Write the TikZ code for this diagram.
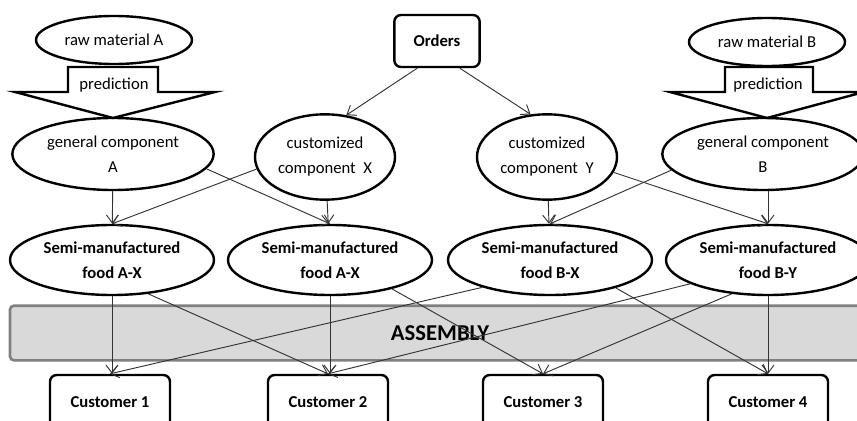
\documentclass[tikz,border=0pt]{standalone}
\usepackage{fontspec}
\setmainfont{Carlito}
\usetikzlibrary{shapes.geometric,arrows.meta}

\tikzstyle{oval} = [ellipse,draw,line width=1.8pt,inner sep=0pt,align=center,font=\fontsize{12.5}{18.75}\selectfont]
\tikzstyle{raw} = [oval,minimum width=117pt,minimum height=36pt]
\tikzstyle{general} = [oval,minimum width=151pt,minimum height=54pt]
\tikzstyle{custom} = [oval,minimum width=105pt,minimum height=64pt]
\tikzstyle{semi} = [oval,minimum width=153pt,minimum height=52.5pt,font=\fontsize{12.5}{18.75}\selectfont\bfseries]
\tikzstyle{box} = [rectangle,draw,rounded corners=5pt,line width=1.8pt,font=\fontsize{12.5}{15}\selectfont\bfseries]
\tikzstyle{customer} = [box,minimum width=90pt,minimum height=40.5pt]
\tikzstyle{band} = [rectangle,draw=black!50,fill=black!15,line width=2pt,rounded corners=3pt,minimum width=645pt,minimum height=41pt,font=\fontsize{17}{20}\selectfont\bfseries]
\tikzstyle{predict} = [draw,line width=1.8pt,fill=white,line join=miter]
\tikzstyle{link} = [draw=black!80,line width=0.7pt,-{Straight Barb[length=6pt,width=9pt]}]

\begin{document}
\begin{tikzpicture}[x=0.75pt,y=-0.75pt]
	\useasboundingbox (0,0) rectangle (857,421);

	\node[band] (asm) at (440,333) {ASSEMBLY};

	\node[raw] (rawA) at (114,40) {raw material A};
	\node[raw] (rawB) at (767,42) {raw material B};
	\node[box,minimum width=64pt,minimum height=39pt] (ord) at (437,41) {Orders};

	\draw[predict] (68,67) -- (158,67) -- (158,92) -- (215,92) -- (113,118) -- (15,92) -- (68,92) -- cycle;
	\draw[predict] (725,67) -- (813,67) -- (813,92) -- (864,92) -- (767,118) -- (670,92) -- (725,92) -- cycle;
	\node[font=\fontsize{12.5}{15}\selectfont] (predA) at (114,85) {prediction};
	\node[font=\fontsize{12.5}{15}\selectfont] (predB) at (768,85) {prediction};

	\node[general] (genA) at (113,154) {general component\\A};
	\node[custom] (cusX) at (325,157) {customized\\component~~X};
	\node[custom] (cusY) at (547,157) {customized\\component~~Y};
	\node[general] (genB) at (763,154) {general component\\B};

	\node[semi] (s1) at (112,260) {Semi-manufactured\\food A-X};
	\node[semi] (s2) at (330,260) {Semi-manufactured\\food A-X};
	\node[semi] (s3) at (550,260) {Semi-manufactured\\food B-X};
	\node[semi] (s4) at (768,260) {Semi-manufactured\\food B-Y};

	\node[customer] (c1) at (110,402) {Customer 1};
	\node[customer] (c2) at (328,402) {Customer 2};
	\node[customer] (c3) at (543,402) {Customer 3};
	\node[customer] (c4) at (768,402) {Customer 4};

	\draw[link] (ord.-126) -- (cusX.63);
	\draw[link] (ord.-50) -- (cusY.111);

	\draw[link] (genA) -- (s1);
	\draw[link] (genA.-9) -- (s2.north);
	\draw[link] (cusX.190) -- (s1.north);
	\draw[link] (cusX) -- (s2);
	\draw[link] (cusY) -- (s3);
	\draw[link] (cusY.-13) -- (s4.north);
	\draw[link] (genB.190) -- (s3.north);
	\draw[link] (genB.south -| s4.north) -- (s4.north);

	\draw[link] (s1) -- (s1 |- c1.north);
	\draw[link] (s1.-43) -- (c2.north);
	\draw[link] (s2) -- (s2 |- c2.north);
	\draw[link] (s2.-25) -- (c3.north);
	\draw[link] (s3.202) -- (c1.north);
	\draw[link] (s3.-23) -- (c4.north);
	\draw[link] (s4.197) -- (c2.north);
	\draw[link] (s4.223) -- (c3.north);
	\draw[link] (s4) -- (c4);
\end{tikzpicture}
\end{document}
